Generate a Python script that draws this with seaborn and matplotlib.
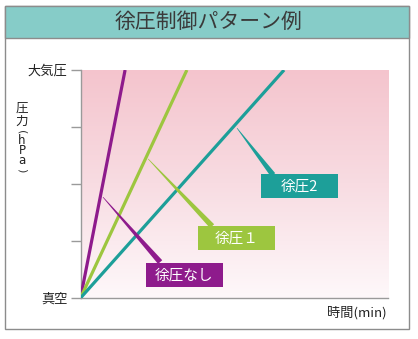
import numpy as np
import pandas as pd
import matplotlib
matplotlib.use("Agg")
import matplotlib.pyplot as plt
import seaborn as sns
from matplotlib.patches import Rectangle, Polygon
from matplotlib.colors import LinearSegmentedColormap

# ---- data ----
series_names = ["徐圧なし", "徐圧1", "徐圧2"]
label_texts = ["徐圧なし", "徐圧１", "徐圧2"]
time_start = [0, 0, 0]
time_end = [14.5, 34.6, 66.2]          # minutes at which atmospheric pressure is reached
pressure_start = [0, 0, 0]
pressure_end = [4, 4, 4]
ytick_values = [0, 1, 2, 3, 4]
ytick_labels = ["真空", "", "", "", "大気圧"]
colors = ["#8E1B8C", "#9DC63F", "#1D9F99"]

# callout anchors (leader start on line, box lower-left, box size) in data units
leader_start = [(7.3, 1.77), (22.0, 2.44), (50.9, 2.98)]
leader_end = [(25.9, 0.63), (42.8, 1.26), (62.6, 2.16)]
box_xy = [(21.3, 0.19), (38.2, 0.84), (58.7, 1.75)]
box_w, box_h = 25.0, 0.42

title = "徐圧制御パターン例"
xlabel = "時間(min)"
ylabel_chars = ["圧", "力", "(", "h", "P", "a", ")"]

sns.set_theme(style="white")
plt.rcParams["font.family"] = ["Noto Sans CJK JP", "DejaVu Sans"]

W, H = 418, 339
fig = plt.figure(figsize=(W / 100, H / 100), dpi=100)
fig.patch.set_facecolor("white")

# outer frame and title band
fig.patches.append(Rectangle((5 / W, (H - 329) / H), 404 / W, 323 / H, transform=fig.transFigure,
                             facecolor="white", edgecolor="#8c8c8c", lw=1.0, zorder=0))
fig.patches.append(Rectangle((5 / W, (H - 38) / H), 404 / W, 32 / H, transform=fig.transFigure,
                             facecolor="#86CCC8", edgecolor="#8c8c8c", lw=1.0, zorder=1))
fig.text(208.5 / W, (H - 22) / H, title, ha="center", va="center", fontsize=15, color="#3a3a3a")

ax = fig.add_axes([80.5 / W, (H - 298) / H, 307.5 / W, 228 / H])
ax.set_zorder(5)
ax.set_facecolor("none")
ax.set_xlim(0, 100)
ax.set_ylim(0, 4)

# pink gradient background
cmap = LinearSegmentedColormap.from_list("pk", ["#FEF8FA", "#F8DCE2", "#F4C4CD"])
grad = np.linspace(0, 1, 256).reshape(-1, 1)
ax.imshow(grad, extent=[0, 100, 0, 4], origin="lower", aspect="auto", cmap=cmap, zorder=0)

# lines
rows = []
for n, xs, xe, ys, ye in zip(series_names, time_start, time_end, pressure_start, pressure_end):
    rows.append({"series": n, "time": xs, "pressure": ys})
    rows.append({"series": n, "time": xe, "pressure": ye})
df = pd.DataFrame(rows)
sns.lineplot(data=df, x="time", y="pressure", hue="series", palette=colors,
             hue_order=series_names, lw=2.3, legend=False, ax=ax, zorder=3,
             solid_capstyle="butt")
ax.set_xlim(0, 100)
ax.set_ylim(0, 4)

# callouts
fig.canvas.draw()
for (s, e, b, c, t) in zip(leader_start, leader_end, box_xy, colors, label_texts):
    ps = ax.transData.transform(s)
    pe = ax.transData.transform(e)
    d = pe - ps
    d = d / np.hypot(*d)
    nrm = np.array([-d[1], d[0]])
    half = 2.8
    pts = np.array([ps + nrm * 0.3, ps - nrm * 0.3, pe - nrm * half, pe + nrm * half])
    pts_data = ax.transData.inverted().transform(pts)
    ax.add_patch(Polygon(pts_data, closed=True, facecolor=c, edgecolor="none", zorder=4))
    ax.add_patch(Rectangle(b, box_w, box_h, facecolor=c, edgecolor="none", zorder=5))
    ax.text(b[0] + box_w / 2, b[1] + box_h / 2, t, ha="center", va="center",
            color="white", fontsize=10.5, zorder=6)

# axes styling
for sp in ["top", "right"]:
    ax.spines[sp].set_visible(False)
for sp in ["left", "bottom"]:
    ax.spines[sp].set_color("#9a9a9a")
    ax.spines[sp].set_linewidth(1.0)
ax.set_yticks(ytick_values)
ax.set_yticklabels(ytick_labels, fontsize=9.5, color="#222222")
ax.tick_params(axis="y", direction="out", length=7.5, width=1.0, color="#9a9a9a", pad=2, left=True)
ax.set_xticks([])
ax.set_xlabel("")
ax.set_ylabel("")

fig.text(387 / W, (H - 313) / H, xlabel, ha="right", va="center", fontsize=9.5, color="#222222")

ylab_y = [108, 121, 132, 141, 151, 160, 170]
for ch, yy in zip(ylabel_chars, ylab_y):
    if ch in "()":
        fig.text(22 / W, (H - yy) / H, ch, ha="center", va="center", fontsize=8,
                 color="#333333", rotation=-90, rotation_mode="anchor", family="DejaVu Sans")
    elif ch.isascii():
        fig.text(22 / W, (H - yy) / H, ch, ha="center", va="center", fontsize=8.5,
                 color="#222222", family="DejaVu Sans")
    else:
        fig.text(22 / W, (H - yy) / H, ch, ha="center", va="center", fontsize=9,
                 color="#222222")

fig.savefig("out.png", dpi=100, facecolor="white")
